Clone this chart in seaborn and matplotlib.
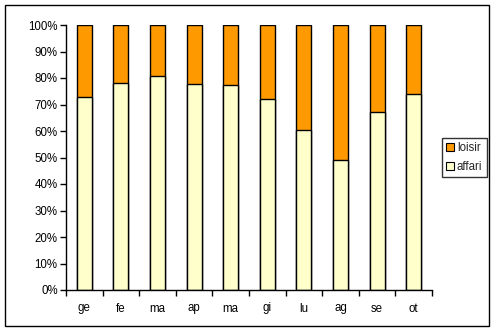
import matplotlib
matplotlib.use("Agg")
import matplotlib.pyplot as plt
from matplotlib.patches import Rectangle, Patch
from matplotlib.ticker import PercentFormatter, FixedLocator
import seaborn as sns
import pandas as pd

months = ["ge", "fe", "ma", "ap", "ma", "gi", "lu", "ag", "se", "ot"]
affari = [72.7, 78.0, 80.9, 77.6, 77.2, 72.1, 60.3, 48.9, 67.1, 73.8]
loisir = [27.3, 22.0, 19.1, 22.4, 22.8, 27.9, 39.7, 51.1, 32.9, 26.2]

col_loisir = "#FF9900"
col_affari = "#FFFFCC"

sns.set_theme(style="white")
plt.rcParams["font.family"] = ["Liberation Sans", "DejaVu Sans"]

df = pd.DataFrame({
    "pos": list(range(len(months))),
    "affari": affari,
    "totale": [a + l for a, l in zip(affari, loisir)],
})

fs = 8.3

fig = plt.figure(figsize=(4.95, 3.32), dpi=100)
fig.patch.set_facecolor("white")
ax = fig.add_axes([66 / 495, 1 - 290 / 332, (432 - 66) / 495, (290 - 25) / 332])

# stacked columns: full height in orange, business share in yellow on top of it
sns.barplot(data=df, x="pos", y="totale", color=col_loisir, saturation=1,
            width=0.41, edgecolor="black", linewidth=1.0, ax=ax)
sns.barplot(data=df, x="pos", y="affari", color=col_affari, saturation=1,
            width=0.41, edgecolor="black", linewidth=1.0, ax=ax)

ax.set_xlim(-0.5, len(months) - 0.5)
ax.set_ylim(0, 100)
ax.set_xlabel("")
ax.set_ylabel("")
ax.set_yticks(range(0, 101, 10))
ax.yaxis.set_major_formatter(PercentFormatter(decimals=0))
ax.set_xticks(range(len(months)))
ax.set_xticklabels(months)
ax.xaxis.set_minor_locator(FixedLocator([i - 0.5 for i in range(len(months) + 1)]))

for s in ["top", "right"]:
    ax.spines[s].set_visible(False)
for s in ["left", "bottom"]:
    ax.spines[s].set_color("black")
    ax.spines[s].set_linewidth(1.0)

ax.tick_params(axis="y", which="major", left=True, length=4, width=1,
               color="black", labelsize=fs, pad=2, labelcolor="black")
ax.tick_params(axis="x", which="major", bottom=False, labelsize=fs,
               pad=3, labelcolor="black")
ax.tick_params(axis="x", which="minor", bottom=True, length=4, width=1,
               color="black")

handles = [Patch(facecolor=col_loisir, edgecolor="black", linewidth=0.8),
           Patch(facecolor=col_affari, edgecolor="black", linewidth=0.8)]
leg = fig.legend(handles, ["loisir", "affari"], loc="upper left",
                 bbox_to_anchor=(442 / 495, 1 - 138 / 332),
                 fontsize=fs, frameon=True, fancybox=False, borderpad=0.35,
                 handlelength=0.7, handleheight=0.7, handletextpad=0.25,
                 labelspacing=0.6, borderaxespad=0)
leg.get_frame().set_edgecolor("black")
leg.get_frame().set_linewidth(1.0)

# outer chart frame
fig.add_artist(Rectangle((5 / 495, 1 - 326 / 332), 484 / 495, 321 / 332,
                         transform=fig.transFigure, fill=False,
                         edgecolor="black", linewidth=1.0))

fig.savefig("out.png", dpi=100)
